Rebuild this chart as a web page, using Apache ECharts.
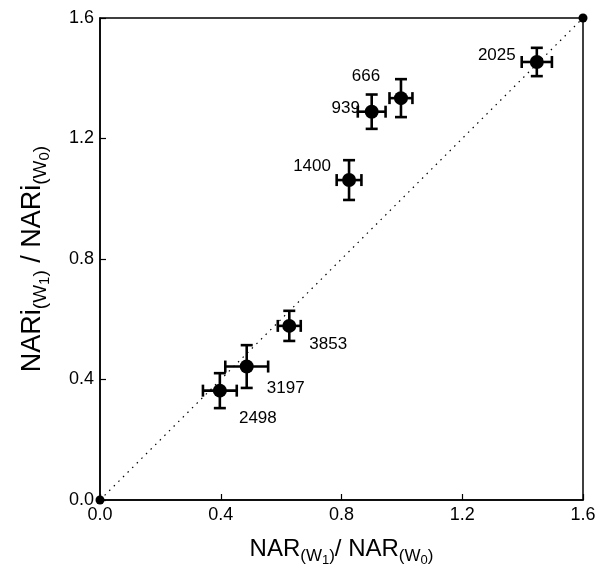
<!DOCTYPE html>
<html>
<head>
<meta charset="utf-8">
<script src="https://cdn.jsdelivr.net/npm/echarts@6/dist/echarts.min.js"></script>
<style>
  html, body { margin: 0; padding: 0; background: #fff; }
  #myChart { width: 603px; height: 573px; }
</style>
</head>
<body>
<div id="myChart"></div>
<script>
// 数据 ---------------------
var names = ['2025', '666', '939', '1400', '3853', '3197', '2498'];
var xVals = [1.447, 0.997, 0.900, 0.825, 0.627, 0.486, 0.397];
var yVals = [1.454, 1.334, 1.289, 1.062, 0.578, 0.443, 0.363];
var xErr  = [0.050, 0.038, 0.046, 0.041, 0.038, 0.071, 0.056];
var yErr  = [0.047, 0.063, 0.057, 0.066, 0.050, 0.071, 0.058];
var diagX = [0, 1.6];
var diagY = [0, 1.6];
var tickVals = [0, 0.4, 0.8, 1.2, 1.6];

// label offsets (px) for each point
var labelOffset = [[-40, -7], [-35, -22], [-26, -3], [-37, -14], [39, 18], [39, 22], [38, 28]];

function makeChart() {
  var myChart = echarts.init(document.getElementById('myChart'));
  var font = 'Liberation Sans, Arial, sans-serif';

  var pts = [];
  var bars = [];
  for (var i = 0; i < names.length; i++) {
    pts.push({
      name: names[i],
      value: [xVals[i], yVals[i]],
      label: { offset: labelOffset[i] }
    });
    bars.push([xVals[i], yVals[i], xErr[i], yErr[i]]);
  }

  var axisCommon = {
    type: 'value',
    min: tickVals[0],
    max: tickVals[tickVals.length - 1],
    interval: 0.4,
    axisLine: { show: true, onZero: false, lineStyle: { color: '#000', width: 1.5 } },
    axisTick: { show: true, inside: true, length: 6, lineStyle: { color: '#000', width: 1.2 } },
    splitLine: { show: false },
    axisLabel: {
      color: '#000', fontSize: 18, fontFamily: font, margin: 6,
      formatter: function (v) { return v.toFixed(1); }
    },
    nameLocation: 'middle'
  };

  // 坐标轴标题 (下标用 rich text)
  function richName(base) {
    return {
      b: { fontSize: base, fontFamily: font, color: '#000' },
      s: { fontSize: Math.round(base * 0.72), fontFamily: font, color: '#000', padding: [Math.round(base * 0.6), 0, 0, 0] },
      ss: { fontSize: Math.round(base * 0.56), fontFamily: font, color: '#000', padding: [Math.round(base * 0.9), 0, 0, 0] }
    };
  }

  var option = {
    animation: false,
    backgroundColor: '#fff',
    grid: {
      left: 100, right: 20, top: 18, bottom: 73,
      containLabel: false,
      outerBoundsMode: 'none',
      show: true, borderColor: '#000', borderWidth: 1.5
    },
    xAxis: Object.assign({}, axisCommon, {
      name: '{b|NAR}{s|(W}{ss|1}{s|)}{b|/ NAR}{s|(W}{ss|0}{s|)}',
      nameGap: 32,
      nameTextStyle: { rich: richName(24) }
    }),
    yAxis: Object.assign({}, axisCommon, {
      name: '{b|NARi}{s|(W}{ss|1}{s|)}{b| / NARi}{s|(W}{ss|0}{s|)}',
      nameGap: 48,
      nameTextStyle: { rich: richName(27) }
    }),
    series: [{
      name: 'diag',
      type: 'line',
      data: diagX.map(function (x, i) { return [x, diagY[i]]; }),
      symbol: 'circle',
      symbolSize: 9,
      itemStyle: { color: '#000', opacity: 1 },
      lineStyle: { color: '#000', width: 1.2, type: [1.5, 5] },
      z: 1
    }, {
      name: 'err',
      type: 'custom',
      data: bars,
      z: 2,
      renderItem: function (params, api) {
        var x = api.value(0), y = api.value(1), ex = api.value(2), ey = api.value(3);
        var l = api.coord([x - ex, y]);
        var r = api.coord([x + ex, y]);
        var t = api.coord([x, y + ey]);
        var b = api.coord([x, y - ey]);
        var c = 6;
        var st = { stroke: '#000', lineWidth: 2.6 };
        return {
          type: 'group',
          children: [
            { type: 'line', shape: { x1: l[0], y1: l[1], x2: r[0], y2: r[1] }, style: st },
            { type: 'line', shape: { x1: l[0], y1: l[1] - c, x2: l[0], y2: l[1] + c }, style: st },
            { type: 'line', shape: { x1: r[0], y1: r[1] - c, x2: r[0], y2: r[1] + c }, style: st },
            { type: 'line', shape: { x1: t[0], y1: t[1], x2: b[0], y2: b[1] }, style: st },
            { type: 'line', shape: { x1: t[0] - c, y1: t[1], x2: t[0] + c, y2: t[1] }, style: st },
            { type: 'line', shape: { x1: b[0] - c, y1: b[1], x2: b[0] + c, y2: b[1] }, style: st }
          ]
        };
      }
    }, {
      name: 'pts',
      type: 'scatter',
      data: pts,
      symbol: 'circle',
      symbolSize: 14,
      itemStyle: { color: '#000', opacity: 1 },
      z: 3,
      label: {
        show: true,
        position: 'inside',
        align: 'center',
        verticalAlign: 'middle',
        formatter: '{b}',
        color: '#000',
        textBorderWidth: 0,
        opacity: 1,
        fontSize: 17,
        fontFamily: font
      }
    }]
  };

  myChart.setOption(option);
}

makeChart();
</script>
</body>
</html>
